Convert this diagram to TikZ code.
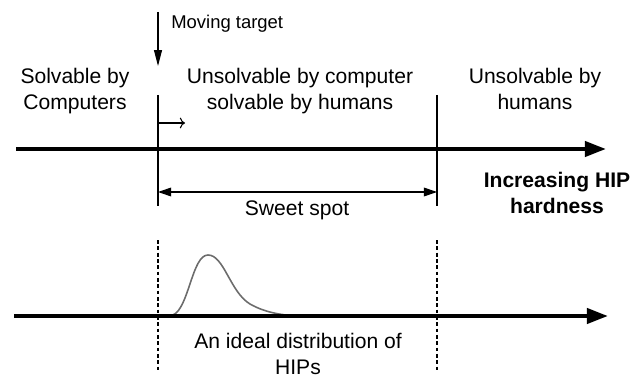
\documentclass[tikz,border=0pt]{standalone}
\usepackage{fontspec}
\setmainfont{Liberation Sans}
\usepackage{tikz}
\usetikzlibrary{arrows,arrows.meta}

\begin{document}
\begin{tikzpicture}[x=0.02cm, y=-0.02cm,
  region/.style={align=center, inner sep=0pt, font=\fontsize{12}{14.3}\selectfont},
  axis/.style={line width=2.4pt, -{Triangle[length=12pt,width=8.5pt]}},
  mark line/.style={line width=0.6pt},
  limit/.style={line width=0.6pt, dash pattern=on 2.2pt off 1.4pt}]
  \useasboundingbox (0,0) rectangle (644,381);
  % the three regions
  \node (comp)   [region] at (75,91)  {Solvable by\\Computers};
  \node (sweet)  [region] at (300,91) {Unsolvable by computer\\solvable by humans};
  \node (human)  [region] at (535,89) {Unsolvable by\\humans};
  \node (target) [anchor=west, inner sep=0pt, font=\fontsize{10.5}{12}\selectfont] at (171,24) {Moving target};
  \node (spot)   [region] at (297,210) {Sweet spot};
  \node (hard)   [region, font=\bfseries\fontsize{12}{14.3}\selectfont] at (557,193) {Increasing HIP\\hardness};
  \node (ideal)  [region] at (298,354) {An ideal distribution of\\HIPs};
  % end points
  \coordinate (mt-top) at (158,12);  \coordinate (mt-bot) at (158,66);
  \coordinate (l-top) at (158,95);   \coordinate (l-bot) at (158,206);
  \coordinate (r-top) at (437,95);   \coordinate (r-bot) at (437,206);
  \coordinate (mv-end) at (185,123); \coordinate (mv-start) at (158,123);
  \coordinate (s-left) at (158,192); \coordinate (s-right) at (437,192);
  \coordinate (ax1-a) at (16,149);   \coordinate (ax1-b) at (606,149);
  \coordinate (ax2-a) at (14,316);   \coordinate (ax2-b) at (608,316);
  \coordinate (dl-top) at (158,240); \coordinate (dl-bot) at (158,372);
  \coordinate (dr-top) at (437,240); \coordinate (dr-bot) at (437,372);
  % lines and arrows
  \draw[mark line, -{Triangle[length=9pt,width=4.5pt]}] (mt-top) -- (mt-bot);
  \draw[mark line] (l-top) -- (l-bot);
  \draw[mark line] (r-top) -- (r-bot);
  \draw[mark line, ->] (mv-start) -- (mv-end);
  \draw[mark line, {Triangle[length=7.5pt,width=5pt]}-{Triangle[length=7.5pt,width=5pt]}] (s-left) -- (s-right);
  \draw[axis] (ax1-a) -- (ax1-b);
  \draw[limit] (dl-top) -- (dl-bot);
  \draw[limit] (dr-top) -- (dr-bot);
  % distribution of HIPs
  \draw[gray!85!black, line width=0.9pt] (173,315) .. controls (189,308) and (192,255) .. (208,255)
    .. controls (224,255) and (230,292) .. (250,304) .. controls (264,312) and (280,315) .. (297,316);
  \draw[axis] (ax2-a) -- (ax2-b);
\end{tikzpicture}
\end{document}
